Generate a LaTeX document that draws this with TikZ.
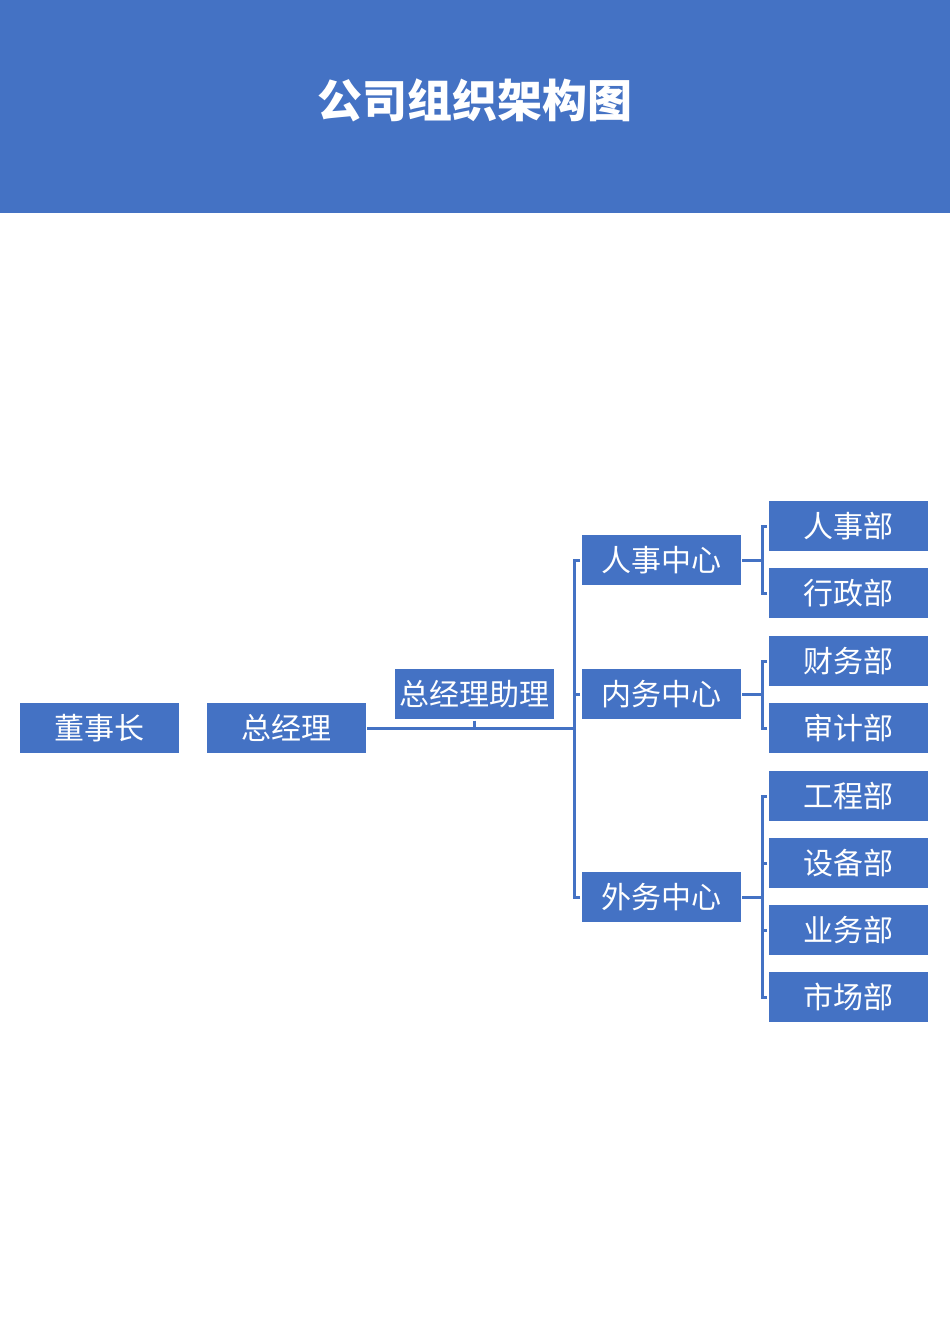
\documentclass[tikz,border=0pt]{standalone}
\usepackage{fontspec}
\setmainfont{Noto Sans CJK SC}
\usepackage{tikz}
\definecolor{orgblue}{RGB}{68,114,196}
\tikzstyle{every path}=[line width=3pt, color=orgblue]
\tikzstyle{unit}=[fill=orgblue, text=white, minimum width=159pt, minimum height=50pt, inner sep=0pt, font=\fontsize{30}{32}\selectfont]

\begin{document}
\begin{tikzpicture}[x=1pt, y=-1pt]
            \useasboundingbox (0, 0) rectangle (950, 1344);
            \fill[orgblue] (0, 0) rectangle (950, 213);
            \node[text=white, font=\fontsize{45}{48}\selectfont\bfseries] (title) at (475, 100) {公司组织架构图};

            \node[unit] (chair) at (99, 728) {董事长};
            \node[unit] (gm) at (286, 728) {总经理};
            \node[unit] (asst) at (474, 694) {总经理助理};

            \node[unit] (hrc) at (661, 560) {人事中心};
            \node[unit] (inc) at (661, 694) {内务中心};
            \node[unit] (exc) at (661, 897) {外务中心};

            \node[unit] (hr) at (848, 526) {人事部};
            \node[unit] (adm) at (848, 593) {行政部};
            \node[unit] (fin) at (848, 661) {财务部};
            \node[unit] (aud) at (848, 728) {审计部};
            \node[unit] (eng) at (848, 796) {工程部};
            \node[unit] (equ) at (848, 863) {设备部};
            \node[unit] (biz) at (848, 930) {业务部};
            \node[unit] (mkt) at (848, 997) {市场部};

            \coordinate (trunk) at (574, 728);
            \draw (gm.east) -- (trunk);
            \draw (asst.south) -- (asst.south |- trunk);
            \draw (hrc.west) -| (trunk);
            \draw (exc.west) -| (trunk);
            \draw (inc.west) -- (inc.west -| trunk);

            \draw (hrc.east) -- ++(20, 0) coordinate (hrc-fork);
            \draw (hr.west) -| (hrc-fork);
            \draw (adm.west) -| (hrc-fork);

            \draw (inc.east) -- ++(20, 0) coordinate (inc-fork);
            \draw (fin.west) -| (inc-fork);
            \draw (aud.west) -| (inc-fork);

            \draw (exc.east) -- ++(20, 0) coordinate (exc-fork);
            \draw (eng.west) -| (exc-fork);
            \draw (equ.west) -| (exc-fork);
            \draw (biz.west) -| (exc-fork);
            \draw (mkt.west) -| (exc-fork);
        \end{tikzpicture}
\end{document}
